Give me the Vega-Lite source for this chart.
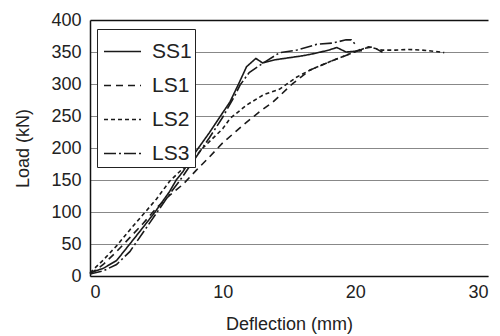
{
  "$schema": "https://vega.github.io/schema/vega-lite/v6.json",
  "width": 398,
  "height": 256,
  "autosize": "none",
  "padding": {"left": 90, "top": 20, "right": 12, "bottom": 60},
  "background": "white",
  "config": {
    "view": {"stroke": null},
    "font": "Liberation Sans",
    "axis": {"labelFont": "Liberation Sans", "titleFont": "Liberation Sans", "labelColor": "#222", "titleColor": "#222", "titleFontWeight": "normal", "labelFontSize": 18, "titleFontSize": 18, "ticks": false, "domainColor": "#111", "domainWidth": 1.5}
  },
  "data": {
    "values": [
      {"s": "SS1", "d": 0, "L": 5}, {"s": "SS1", "d": 1, "L": 12}, {"s": "SS1", "d": 2, "L": 24}, {"s": "SS1", "d": 3, "L": 50}, {"s": "SS1", "d": 4, "L": 76}, {"s": "SS1", "d": 4.9, "L": 100}, {"s": "SS1", "d": 6, "L": 132}, {"s": "SS1", "d": 6.5, "L": 150}, {"s": "SS1", "d": 7, "L": 163}, {"s": "SS1", "d": 8, "L": 195}, {"s": "SS1", "d": 9, "L": 224}, {"s": "SS1", "d": 10, "L": 255}, {"s": "SS1", "d": 10.55, "L": 272}, {"s": "SS1", "d": 11.2, "L": 300}, {"s": "SS1", "d": 11.8, "L": 327}, {"s": "SS1", "d": 12.5, "L": 340}, {"s": "SS1", "d": 13.0, "L": 333}, {"s": "SS1", "d": 14, "L": 338}, {"s": "SS1", "d": 15, "L": 341}, {"s": "SS1", "d": 16, "L": 344}, {"s": "SS1", "d": 17, "L": 348}, {"s": "SS1", "d": 18, "L": 353}, {"s": "SS1", "d": 18.6, "L": 357}, {"s": "SS1", "d": 19.3, "L": 350}, {"s": "SS1", "d": 20.5, "L": 352},
      {"s": "LS1", "d": 0, "L": 3}, {"s": "LS1", "d": 1, "L": 18}, {"s": "LS1", "d": 2, "L": 38}, {"s": "LS1", "d": 3, "L": 60}, {"s": "LS1", "d": 4, "L": 82}, {"s": "LS1", "d": 5, "L": 106}, {"s": "LS1", "d": 6, "L": 126}, {"s": "LS1", "d": 7, "L": 143}, {"s": "LS1", "d": 8, "L": 165}, {"s": "LS1", "d": 9, "L": 186}, {"s": "LS1", "d": 10, "L": 208}, {"s": "LS1", "d": 11, "L": 226}, {"s": "LS1", "d": 11.55, "L": 236}, {"s": "LS1", "d": 12.8, "L": 257}, {"s": "LS1", "d": 13.8, "L": 272}, {"s": "LS1", "d": 15.3, "L": 301}, {"s": "LS1", "d": 16.6, "L": 322}, {"s": "LS1", "d": 18.1, "L": 335}, {"s": "LS1", "d": 19.6, "L": 347}, {"s": "LS1", "d": 20.5, "L": 355}, {"s": "LS1", "d": 21.3, "L": 358}, {"s": "LS1", "d": 22.2, "L": 348},
      {"s": "LS2", "d": 0, "L": 5}, {"s": "LS2", "d": 1, "L": 25}, {"s": "LS2", "d": 2, "L": 47}, {"s": "LS2", "d": 3, "L": 72}, {"s": "LS2", "d": 4, "L": 96}, {"s": "LS2", "d": 5, "L": 120}, {"s": "LS2", "d": 6, "L": 148}, {"s": "LS2", "d": 7, "L": 168}, {"s": "LS2", "d": 8, "L": 188}, {"s": "LS2", "d": 8.5, "L": 200}, {"s": "LS2", "d": 9, "L": 210}, {"s": "LS2", "d": 10, "L": 230}, {"s": "LS2", "d": 10.55, "L": 246}, {"s": "LS2", "d": 11.8, "L": 267}, {"s": "LS2", "d": 13.06, "L": 283}, {"s": "LS2", "d": 14.3, "L": 292}, {"s": "LS2", "d": 15.6, "L": 311}, {"s": "LS2", "d": 16.8, "L": 324}, {"s": "LS2", "d": 18.1, "L": 335}, {"s": "LS2", "d": 19.3, "L": 345}, {"s": "LS2", "d": 20.2, "L": 352}, {"s": "LS2", "d": 21, "L": 358}, {"s": "LS2", "d": 22, "L": 353}, {"s": "LS2", "d": 23, "L": 353}, {"s": "LS2", "d": 24, "L": 354}, {"s": "LS2", "d": 25, "L": 353}, {"s": "LS2", "d": 26, "L": 351}, {"s": "LS2", "d": 26.7, "L": 349},
      {"s": "LS3", "d": 0, "L": 3}, {"s": "LS3", "d": 1, "L": 8}, {"s": "LS3", "d": 2, "L": 18}, {"s": "LS3", "d": 3, "L": 38}, {"s": "LS3", "d": 3.4, "L": 50}, {"s": "LS3", "d": 4, "L": 68}, {"s": "LS3", "d": 5, "L": 98}, {"s": "LS3", "d": 6, "L": 128}, {"s": "LS3", "d": 6.8, "L": 150}, {"s": "LS3", "d": 8, "L": 186}, {"s": "LS3", "d": 9, "L": 216}, {"s": "LS3", "d": 10, "L": 248}, {"s": "LS3", "d": 11, "L": 285}, {"s": "LS3", "d": 11.3, "L": 298}, {"s": "LS3", "d": 12, "L": 318}, {"s": "LS3", "d": 13, "L": 332}, {"s": "LS3", "d": 14.3, "L": 349}, {"s": "LS3", "d": 15.6, "L": 353}, {"s": "LS3", "d": 17.1, "L": 362}, {"s": "LS3", "d": 18.3, "L": 364}, {"s": "LS3", "d": 19.3, "L": 369}, {"s": "LS3", "d": 19.7, "L": 369}, {"s": "LS3", "d": 20, "L": 362}
    ]
  },
  "mark": {"type": "line", "color": "#1a1a1a", "strokeWidth": 1.6},
  "encoding": {
    "x": {"field": "d", "type": "quantitative", "title": "Deflection (mm)", "scale": {"domain": [0, 30], "nice": false}, "axis": {"values": [0, 10, 20, 30], "grid": false, "labelPadding": 7, "titlePadding": 14}},
    "y": {"field": "L", "type": "quantitative", "title": "Load (kN)", "scale": {"domain": [0, 400], "nice": false}, "axis": {"values": [0, 50, 100, 150, 200, 250, 300, 350, 400], "grid": true, "gridColor": {"condition": {"test": "datum.value === 400", "value": "#111"}, "value": "#888"}, "gridWidth": {"condition": {"test": "datum.value === 400", "value": 1.5}, "value": 1}, "labelPadding": 9, "titlePadding": 18}},
    "strokeDash": {"field": "s", "type": "nominal", "sort": ["SS1", "LS1", "LS2", "LS3"], "scale": {"domain": ["SS1", "LS1", "LS2", "LS3"], "range": [[1, 0], [7, 5], [4, 3], [12, 3, 2, 3]]},
      "legend": {"title": null, "orient": "none", "legendX": 7, "legendY": 9, "padding": 3, "symbolOffset": 3, "rowPadding": 4, "labelFontSize": 21, "labelFont": "Liberation Sans", "labelColor": "#222", "labelOffset": 10, "symbolType": "stroke", "symbolSize": 1369, "symbolStrokeWidth": 1.6, "symbolStrokeColor": "#1a1a1a", "strokeColor": "#222", "fillColor": "white"}}
  }
}
